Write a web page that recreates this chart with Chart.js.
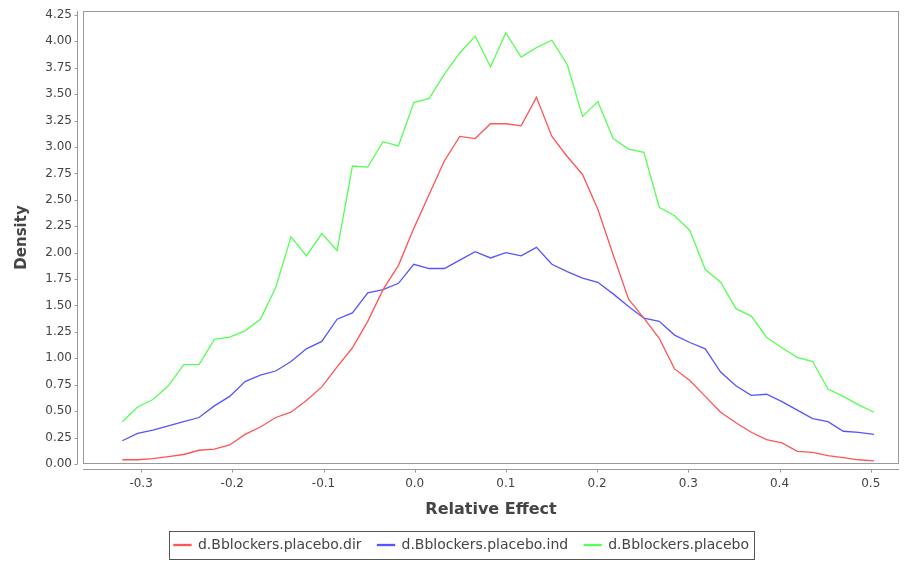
<!DOCTYPE html>
<html>
<head>
<meta charset="utf-8">
<title>Density</title>
<script src="https://cdn.jsdelivr.net/npm/chart.js@4.4.1/dist/chart.umd.min.js"></script>
<style>
  html, body { margin: 0; padding: 0; background: #ffffff; }
  canvas { display: block; }
</style>
</head>
<body>
<canvas id="density-chart" width="904" height="562"></canvas>
<script>
// Relative effect (bin centres) shared by all three series
const relativeEffect = [
  -0.3206, -0.3038, -0.2870, -0.2701, -0.2533, -0.2365, -0.2197, -0.2029, -0.1860, -0.1692,
  -0.1524, -0.1356, -0.1188, -0.1019, -0.0851, -0.0683, -0.0515, -0.0347, -0.0178, -0.0010,
  0.0158, 0.0326, 0.0494, 0.0663, 0.0831, 0.0999, 0.1167, 0.1335, 0.1504, 0.1672,
  0.1840, 0.2008, 0.2176, 0.2345, 0.2513, 0.2681, 0.2849, 0.3017, 0.3186, 0.3354,
  0.3522, 0.3690, 0.3858, 0.4027, 0.4195, 0.4363, 0.4531, 0.4699, 0.4867, 0.5036
];

const directDensity = [
  0.04, 0.04, 0.05, 0.07, 0.09, 0.13, 0.14, 0.18, 0.28, 0.35,
  0.44, 0.49, 0.60, 0.73, 0.92, 1.10, 1.35, 1.65, 1.88, 2.23,
  2.55, 2.87, 3.10, 3.08, 3.22, 3.22, 3.20, 3.47, 3.10, 2.91,
  2.74, 2.41, 1.98, 1.56, 1.38, 1.19, 0.90, 0.79, 0.64, 0.49,
  0.39, 0.30, 0.23, 0.20, 0.12, 0.11, 0.08, 0.06, 0.04, 0.03
];

const indirectDensity = [
  0.22, 0.29, 0.32, 0.36, 0.40, 0.44, 0.55, 0.64, 0.78, 0.84,
  0.88, 0.97, 1.09, 1.16, 1.37, 1.43, 1.62, 1.65, 1.71, 1.89,
  1.85, 1.85, 1.93, 2.01, 1.95, 2.00, 1.97, 2.05, 1.89, 1.82,
  1.76, 1.72, 1.61, 1.49, 1.38, 1.35, 1.22, 1.15, 1.09, 0.87,
  0.74, 0.65, 0.66, 0.59, 0.51, 0.43, 0.40, 0.31, 0.30, 0.28
];

const placeboDensity = [
  0.40, 0.54, 0.61, 0.74, 0.94, 0.94, 1.18, 1.20, 1.26, 1.37,
  1.67, 2.15, 1.97, 2.18, 2.02, 2.82, 2.81, 3.05, 3.01, 3.42,
  3.46, 3.69, 3.89, 4.05, 3.76, 4.08, 3.85, 3.94, 4.01, 3.78,
  3.29, 3.43, 3.08, 2.98, 2.95, 2.43, 2.35, 2.21, 1.84, 1.72,
  1.47, 1.40, 1.20, 1.10, 1.01, 0.97, 0.71, 0.64, 0.56, 0.49
];

const seriesNames = ["d.Bblockers.placebo.dir", "d.Bblockers.placebo.ind", "d.Bblockers.placebo"];
const seriesColors = ["#ff5555", "#5555ff", "#55ff55"];

const xTickValues = [-0.3, -0.2, -0.1, 0.0, 0.1, 0.2, 0.3, 0.4, 0.5];
const yTickValues = [0, 0.25, 0.5, 0.75, 1, 1.25, 1.5, 1.75, 2, 2.25, 2.5, 2.75, 3, 3.25, 3.5, 3.75, 4, 4.25];

const FONT = "Tahoma, 'DejaVu Sans', sans-serif";
const TEXT = "#444444";
const LINE_GREY = "#999999";
const LEGEND_SHIFT = 12;

function toPoints(values) {
  return values.map((y, i) => ({ x: relativeEffect[i], y }));
}

// plot outline, offset axis lines and tick marks, legend frame
const framePlugin = {
  id: "frame",
  afterLayout(chart) {
    // legend sits a little right of the canvas centre in the original
    if (chart.legend) {
      chart.legend.left += LEGEND_SHIFT;
      chart.legend.right += LEGEND_SHIFT;
    }
  },
  beforeDatasetsDraw(chart) {
    const { ctx, chartArea: a, scales } = chart;
    const seg = (x1, y1, x2, y2) => {
      ctx.beginPath();
      ctx.moveTo(x1, y1);
      ctx.lineTo(x2, y2);
      ctx.stroke();
    };
    ctx.save();
    ctx.strokeStyle = LINE_GREY;
    ctx.lineWidth = 1;
    ctx.strokeRect(a.left + 0.5, a.top + 0.5, a.right - a.left - 1, a.bottom - a.top - 1);

    const yAxisX = a.left - 5.5;
    seg(yAxisX, a.top, yAxisX, a.bottom);
    scales.y.ticks.forEach((t) => {
      const py = Math.round(scales.y.getPixelForValue(t.value)) + 0.5;
      seg(yAxisX - 3, py, yAxisX, py);
    });

    const xAxisY = a.bottom + 5.5;
    seg(a.left, xAxisY, a.right, xAxisY);
    scales.x.ticks.forEach((t) => {
      const px = Math.round(scales.x.getPixelForValue(t.value)) + 0.5;
      seg(px, xAxisY, px, xAxisY + 3);
    });
    ctx.restore();
  },
  afterDraw(chart) {
    const legend = chart.legend;
    const boxes = legend && legend.legendHitBoxes;
    if (!boxes || !boxes.length) {
      return;
    }
    const first = boxes[0];
    const last = boxes[boxes.length - 1];
    const rowWidth = last.left + last.width - first.left;
    const centre = (legend.left + legend.right) / 2;
    const { ctx } = chart;
    ctx.save();
    ctx.strokeStyle = "#555555";
    ctx.lineWidth = 1;
    const left = Math.round(centre - rowWidth / 2 - 5) + 0.5;
    const right = Math.round(centre + rowWidth / 2 + 5) + 0.5;
    const top = Math.round(first.top - 7) + 0.5;
    const bottom = Math.round(first.top + first.height + 7) + 0.5;
    ctx.strokeRect(left, top, right - left, bottom - top);
    ctx.restore();
  }
};

const seriesValues = [directDensity, indirectDensity, placeboDensity];

new Chart(document.getElementById("density-chart"), {
  type: "line",
  data: {
    datasets: seriesValues.map((values, i) => ({
      label: seriesNames[i],
      data: toPoints(values),
      borderColor: seriesColors[i],
      backgroundColor: seriesColors[i],
      borderWidth: 1.3,
      pointRadius: 0,
      tension: 0,
      fill: false
    }))
  },
  options: {
    responsive: false,
    animation: false,
    devicePixelRatio: 1,
    layout: { padding: { top: 11, right: 5, left: 0, bottom: 0 } },
    plugins: {
      tooltip: { enabled: false },
      legend: {
        position: "bottom",
        labels: {
          boxWidth: 17,
          boxHeight: 1,
          padding: 16,
          color: TEXT,
          font: { family: FONT, size: 14 }
        }
      }
    },
    scales: {
      x: {
        type: "linear",
        min: -0.3637,
        max: 0.531,
        afterBuildTicks: (scale) => {
          scale.ticks = xTickValues.map((value) => ({ value }));
        },
        afterFit: (scale) => {
          scale.height = 58;
        },
        grid: { display: false, drawTicks: false },
        border: { display: false },
        ticks: {
          padding: 13,
          color: TEXT,
          autoSkip: false,
          maxRotation: 0,
          font: { family: FONT, size: 12 },
          callback: (value) => Number(value).toFixed(1)
        },
        title: {
          display: true,
          text: "Relative Effect",
          color: TEXT,
          font: { family: FONT, size: 16, weight: "bold" },
          padding: { top: 0, bottom: 3 }
        }
      },
      y: {
        min: 0,
        max: 4.287,
        afterBuildTicks: (scale) => {
          scale.ticks = yTickValues.map((value) => ({ value }));
        },
        afterFit: (scale) => {
          scale.width = 83;
          scale.paddingTop = 0;
          scale.paddingBottom = 0;
        },
        grid: { display: false, drawTicks: false },
        border: { display: false },
        ticks: {
          padding: 11,
          color: TEXT,
          autoSkip: false,
          font: { family: FONT, size: 12 },
          callback: (value) => Number(value).toFixed(2)
        },
        title: {
          display: true,
          text: "Density",
          color: TEXT,
          font: { family: FONT, size: 15, weight: "bold" },
          padding: { top: 13, bottom: 0 }
        }
      }
    }
  },
  plugins: [framePlugin]
});
</script>
</body>
</html>
